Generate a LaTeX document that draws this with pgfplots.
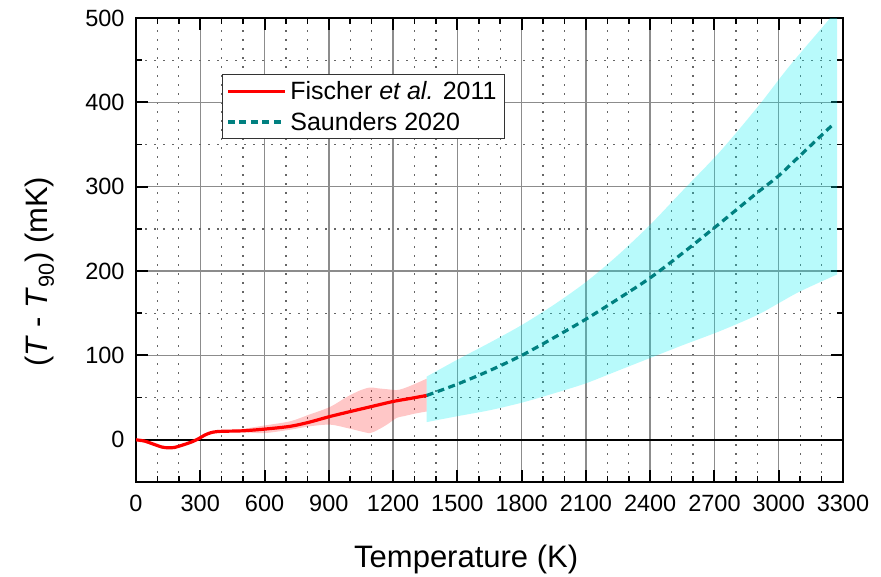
\documentclass[border=0pt]{standalone}
\usepackage{fontspec}
\setmainfont{Liberation Sans}
\usepackage{pgfplots}
\pgfplotsset{compat=1.18}
\usepgfplotslibrary{fillbetween}
\definecolor{bandred}{RGB}{255,0,0}
\definecolor{bandcyan}{RGB}{0,238,242}
\definecolor{dashteal}{RGB}{0,128,128}

\begin{document}
\begin{tikzpicture}
\begin{axis}[
  scale only axis,
  width=707bp, height=464bp,
  xmin=0, xmax=3300, ymin=-50, ymax=500,
  xtick={0,300,...,3300},
  minor xtick={100,200,400,500,700,800,1000,1100,1300,1400,1600,1700,1900,2000,2200,2300,2500,2600,2800,2900,3100,3200},
  ytick={0,100,...,500},
  minor ytick={-50,50,150,250,350,450},
  grid=both,
  major grid style={draw=gray!90, line width=1.4bp},
  minor grid style={draw=black!60, line width=1.3bp, dash pattern=on 2bp off 7bp},
  axis line style={line width=2.2bp},
  tick align=inside,
  major tick length=12bp,
  minor tick length=6bp,
  major tick style={line width=2bp, black},
  minor tick style={line width=1.6bp, black},
  ticklabel style={font=\fontsize{23.5bp}{28bp}\selectfont},
  /pgf/number format/assume math mode=true,
  /pgf/number format/1000 sep={},
  xticklabel style={yshift=-10bp},
  yticklabel style={xshift=-8bp},
  xlabel={Temperature (K)},
  ylabel={(\textit{T} - \textit{T}\textsubscript{90}) (mK)},
  label style={font=\fontsize{31bp}{36bp}\selectfont},
  xlabel style={at={(axis description cs:0.467,-0.1847)}, anchor=base},
  ylabel style={at={(axis description cs:-0.1255,0.453)}, anchor=base},
  legend style={at={(axis description cs:0.1212,0.879)}, anchor=north west,
    draw=black!80, line width=1bp, fill=white,
    font=\fontsize{25bp}{30bp}\selectfont,
    inner xsep=4bp, inner ysep=5bp, row sep=7bp,
    nodes={inner xsep=4bp}},
  legend cell align=left,
  legend image code/.code={\draw[#1] (0bp,0bp) -- (57bp,0bp);},
]
% Saunders 2020 uncertainty band
\addplot[name path=cu, draw=none, forget plot, smooth] coordinates {
 (1357,75) (1500,95) (1650,115) (1800,136) (1950,160) (2100,187) (2250,219)
 (2400,255) (2550,295) (2727,342) (2906,396) (3050,443) (3240,500) (3272,512)};
\addplot[name path=cl, draw=none, forget plot, smooth] coordinates {
 (1357,21) (1500,28) (1650,35) (1800,44) (1950,55) (2100,67) (2250,82)
 (2400,97) (2550,112) (2727,129) (2900,148) (3007,163) (3100,176) (3272,196)};
\addplot[fill=bandcyan, fill opacity=0.28, draw=none, forget plot] fill between[of=cu and cl];
% Fischer 2011 uncertainty band
\addplot[name path=ru, draw=none, forget plot, smooth] coordinates {
 (420,10.5) (500,13) (600,17) (720,22) (810,30) (906,39) (985,51) (1050,59)
 (1093,62) (1130,61) (1171,60) (1217,59) (1250,61) (1300,66) (1357,72.5)};
\addplot[name path=rl, draw=none, forget plot, smooth] coordinates {
 (420,9.5) (500,9) (600,8) (720,12) (810,16) (906,18) (985,14) (1050,10)
 (1093,8) (1130,12) (1171,18) (1217,26) (1250,28) (1300,31) (1357,33.6)};
\addplot[fill=bandred, fill opacity=0.22, draw=none, forget plot] fill between[of=ru and rl];
% zero line
\addplot[black, line width=2.2bp, forget plot] coordinates {(0,0) (3300,0)};
% Fischer et al. 2011
\addplot[red, line width=3.2bp, smooth] coordinates {
 (0,0) (40,-1.5) (80,-5) (120,-8.5) (150,-9.5) (180,-9) (220,-6) (260,-2.5)
 (290,1) (320,5.5) (350,8.5) (380,9.8) (420,10.2) (500,10.7) (600,12.7)
 (720,16) (810,21) (906,27.7) (1000,33.5) (1100,39.5) (1201,45.5) (1280,49) (1357,52.6)};
\addlegendentry{Fischer \textit{et al.} 2011}
% Saunders 2020
\addplot[dashteal, line width=3.2bp, dash pattern=on 7bp off 4.5bp, smooth] coordinates {
 (1357,52.6) (1500,66) (1650,82) (1800,100) (1950,121) (2100,143) (2250,167)
 (2400,192) (2550,221) (2727,257) (2900,293) (3000,313) (3100,337) (3250,373)};
\addlegendentry{Saunders 2020}
\end{axis}
\pgfresetboundingbox
\path[use as bounding box] ([shift={(-136bp,-95bp)}]current axis.south west) rectangle ++(881bp,577bp);
\end{tikzpicture}
\end{document}
